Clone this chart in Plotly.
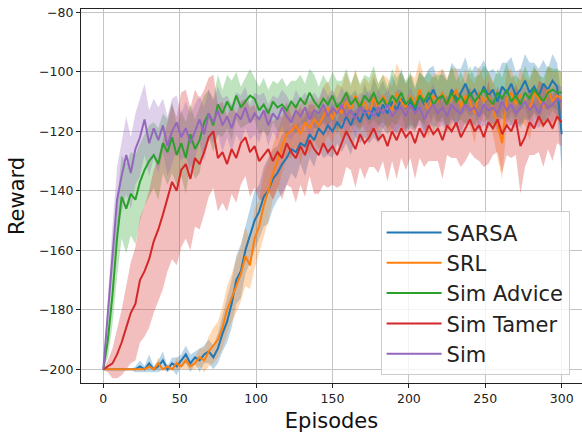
import plotly.graph_objects as go

episodes = list(range(0, 301, 3))

sarsa_mean = [
    -200, -200, -200, -200, -200, -200, -200, -200, -199, -200,
    -198, -200, -199, -197, -200, -198, -199, -197, -195, -198,
    -196, -197, -195, -194, -196, -193, -188, -184, -178, -170,
    -167, -160, -155, -150, -147, -142, -140, -136, -134, -131,
    -129, -126, -127, -124, -125, -121, -123, -119, -121, -118,
    -120, -117, -119, -115, -118, -114, -117, -113, -116, -112,
    -115, -111, -114, -110, -113, -109, -112, -110, -113, -108,
    -111, -109, -106, -110, -108, -111, -106, -109, -107, -104,
    -108, -106, -109, -105, -108, -106, -110, -105, -107, -104,
    -108, -106, -103, -107, -105, -108, -104, -106, -103, -105,
    -121]
sarsa_std = [
    0, 0, 0, 0, 0, 0, 0, 1, 2, 1,
    3, 1, 2, 3, 1, 2, 3, 2, 3, 3,
    2, 4, 3, 4, 4, 5, 6, 7, 8, 8,
    9, 8, 9, 10, 9, 10, 11, 10, 9, 10,
    9, 8, 9, 7, 10, 8, 9, 7, 8, 10,
    9, 7, 8, 9, 10, 8, 7, 9, 8, 10,
    9, 8, 7, 9, 8, 10, 8, 9, 7, 8,
    9, 10, 8, 7, 9, 8, 9, 10, 8, 9,
    7, 8, 10, 9, 8, 7, 9, 8, 10, 9,
    8, 7, 9, 10, 8, 9, 8, 7, 9, 8,
    12]

srl_mean = [
    -200, -200, -200, -200, -200, -200, -200, -200, -200, -200,
    -199, -200, -198, -200, -199, -200, -198, -199, -197, -199,
    -198, -196, -197, -194, -192, -190, -186, -180, -176, -172,
    -168, -162, -165, -156, -152, -145, -140, -134, -130, -125,
    -121, -120, -118, -121, -117, -119, -116, -118, -115, -112,
    -116, -111, -114, -110, -113, -108, -112, -110, -114, -109,
    -112, -108, -111, -113, -107, -110, -112, -108, -111, -106,
    -110, -113, -108, -110, -107, -111, -109, -106, -112, -108,
    -110, -114, -107, -110, -108, -112, -118, -124, -109, -107,
    -111, -108, -110, -113, -107, -109, -112, -106, -110, -108,
    -109]
srl_std = [
    0, 0, 0, 0, 0, 0, 0, 0, 0, 0,
    1, 0, 2, 0, 1, 0, 2, 1, 3, 1,
    2, 3, 4, 5, 6, 6, 7, 8, 8, 9,
    9, 10, 8, 10, 9, 11, 10, 9, 10, 9,
    8, 9, 7, 10, 8, 9, 7, 8, 10, 9,
    8, 7, 9, 10, 8, 9, 7, 8, 10, 9,
    8, 7, 9, 8, 10, 9, 8, 7, 9, 10,
    8, 9, 7, 10, 8, 9, 10, 7, 8, 9,
    8, 10, 9, 7, 8, 9, 11, 12, 9, 8,
    7, 9, 8, 10, 8, 9, 7, 8, 10, 8,
    9]

advice_mean = [
    -200, -190, -175, -156, -142, -146, -141, -143, -137, -133,
    -130, -128, -131, -124, -127, -122, -128, -124, -129, -121,
    -126, -123, -117, -114, -118, -111, -114, -110, -113, -108,
    -112, -110, -108, -109, -113, -111, -114, -110, -112, -111,
    -113, -110, -112, -109, -111, -107, -110, -112, -109, -111,
    -108, -112, -110, -107, -111, -109, -112, -108, -110, -107,
    -111, -109, -112, -108, -110, -107, -111, -109, -112, -108,
    -110, -107, -111, -109, -108, -111, -107, -110, -108, -111,
    -107, -110, -108, -106, -109, -111, -107, -109, -106, -110,
    -108, -111, -107, -109, -106, -108, -110, -107, -106, -107,
    -107]
advice_std = [
    0, 6, 10, 13, 14, 15, 14, 15, 13, 12,
    12, 11, 12, 10, 11, 12, 10, 11, 12, 10,
    10, 11, 9, 8, 9, 10, 8, 9, 10, 8,
    7, 8, 9, 7, 8, 9, 8, 7, 8, 9,
    8, 7, 9, 8, 7, 8, 9, 7, 8, 7,
    8, 9, 7, 8, 7, 9, 8, 7, 8, 9,
    7, 8, 7, 9, 8, 7, 8, 9, 7, 8,
    8, 7, 9, 8, 7, 8, 9, 7, 8, 7,
    9, 8, 7, 8, 9, 7, 8, 7, 9, 8,
    7, 8, 9, 7, 8, 7, 8, 9, 7, 8,
    7]

tamer_mean = [
    -200, -199, -198, -195, -191, -186, -181, -178, -170, -167,
    -163, -157, -153, -148, -142, -137, -140, -133, -131, -136,
    -129, -131, -127, -122, -120, -129, -127, -131, -126, -129,
    -124, -122, -127, -125, -130, -128, -126, -130, -127, -129,
    -124, -127, -129, -125, -128, -123, -126, -128, -124, -127,
    -125, -128, -124, -120, -123, -126, -121, -124, -122, -119,
    -123, -121, -125, -120, -123, -119, -122, -120, -124, -119,
    -122, -118, -121, -119, -123, -118, -120, -117, -122, -119,
    -116, -120, -118, -122, -117, -119, -116, -121, -118, -120,
    -116, -125, -122, -117, -119, -115, -118, -116, -119, -115,
    -117]
tamer_std = [
    0, 2, 5, 8, 11, 14, 17, 19, 21, 22,
    23, 24, 24, 25, 25, 26, 25, 26, 25, 24,
    23, 22, 21, 20, 19, 18, 17, 16, 15, 15,
    14, 13, 15, 14, 13, 15, 14, 13, 12, 14,
    14, 12, 15, 13, 14, 12, 15, 13, 14, 12,
    13, 11, 14, 12, 10, 13, 11, 12, 10, 13,
    11, 9, 12, 10, 13, 10, 11, 9, 12, 10,
    10, 12, 9, 11, 13, 10, 9, 12, 10, 11,
    11, 9, 12, 10, 14, 9, 11, 13, 10, 9,
    12, 16, 10, 11, 9, 12, 14, 10, 11, 9,
    8]

sim_mean = [
    -200, -180, -160, -143, -135, -128, -134, -126, -122, -116,
    -124, -119, -123, -118, -125, -120, -117, -122, -119, -124,
    -120, -116, -121, -114, -117, -113, -118, -115, -119, -114,
    -116, -112, -117, -114, -116, -113, -118, -114, -116, -112,
    -115, -117, -113, -115, -112, -116, -113, -114, -111, -115,
    -112, -114, -111, -115, -113, -116, -112, -114, -113, -115,
    -112, -114, -111, -115, -113, -112, -115, -111, -114, -112,
    -116, -113, -111, -114, -112, -115, -111, -113, -114, -111,
    -113, -112, -115, -111, -113, -112, -114, -110, -113, -111,
    -114, -112, -110, -113, -111, -114, -110, -112, -111, -109,
    -110]
sim_std = [
    0, 5, 8, 11, 12, 13, 12, 12, 13, 12,
    11, 10, 11, 9, 10, 11, 9, 8, 9, 10,
    9, 8, 9, 8, 7, 8, 9, 7, 8, 7,
    8, 7, 6, 7, 8, 6, 7, 6, 7, 6,
    7, 6, 7, 6, 5, 7, 6, 5, 6, 7,
    6, 5, 6, 7, 5, 6, 5, 6, 7, 5,
    6, 5, 6, 5, 7, 6, 5, 6, 5, 6,
    5, 6, 7, 5, 6, 5, 6, 5, 7, 6,
    5, 6, 5, 7, 6, 5, 6, 5, 6, 7,
    5, 6, 5, 6, 7, 5, 6, 5, 6, 5,
    5]

series_names = ["SARSA", "SRL", "Sim Advice", "Sim Tamer", "Sim"]
series_means = [sarsa_mean, srl_mean, advice_mean, tamer_mean, sim_mean]
series_stds = [sarsa_std, srl_std, advice_std, tamer_std, sim_std]
colors = ["#1f77b4", "#ff7f0e", "#2ca02c", "#d62728", "#9467bd"]
fills = ["rgba(31,119,180,0.3)", "rgba(255,127,14,0.3)", "rgba(44,160,44,0.3)",
         "rgba(214,39,40,0.3)", "rgba(148,103,189,0.3)"]

for m, s in zip(series_means, series_stds):
    assert len(m) == len(episodes) and len(s) == len(episodes)

fig = go.Figure()
for name, m, s, fc in zip(series_names, series_means, series_stds, fills):
    upper = [a + b for a, b in zip(m, s)]
    lower = [a - b for a, b in zip(m, s)]
    fig.add_trace(go.Scatter(
        x=episodes + episodes[::-1], y=upper + lower[::-1],
        fill="toself", fillcolor=fc, line=dict(width=0),
        mode="lines", showlegend=False, hoverinfo="skip"))
for name, m, c in zip(series_names, series_means, colors):
    fig.add_trace(go.Scatter(x=episodes, y=m, mode="lines", name=name,
                             line=dict(color=c, width=2)))

font_family = "DejaVu Sans"
fig.update_layout(
    width=582, height=437,
    margin=dict(l=81, r=0, t=9, b=54),
    paper_bgcolor="white", plot_bgcolor="white",
    font=dict(family=font_family, color="#222222"),
    legend=dict(
        x=0.598, y=0.459, xanchor="left", yanchor="top",
        font=dict(size=21, family=font_family, color="#222222"),
        bgcolor="rgba(255,255,255,0.8)", bordercolor="#cccccc", borderwidth=1,
        tracegroupgap=0, itemwidth=55,
    ),
)
fig.update_xaxes(
    range=[-14.6, 313.3], tickmode="array", tickvals=[0, 50, 100, 150, 200, 250, 300],
    showgrid=True, gridcolor="#c4c4c4", gridwidth=1.2, zeroline=False,
    showline=True, linecolor="#222222", linewidth=1.2, mirror=True,
    ticks="outside", ticklen=4, tickcolor="#222222",
    tickfont=dict(size=12.5, family=font_family, color="#222222"),
    title=dict(text="Episodes", font=dict(size=21, family=font_family, color="#111111"), standoff=8),
)
fig.update_yaxes(
    range=[-204.6, -78.9], tickmode="array", tickvals=[-200, -180, -160, -140, -120, -100, -80],
    showgrid=True, gridcolor="#c4c4c4", gridwidth=1.2, zeroline=False,
    showline=True, linecolor="#222222", linewidth=1.2, mirror=False,
    ticks="outside", ticklen=4, tickcolor="#222222",
    tickfont=dict(size=12.5, family=font_family, color="#222222"),
    title=dict(text="Reward", font=dict(size=21, family=font_family, color="#111111"), standoff=8),
)
fig.write_html("out.html")
